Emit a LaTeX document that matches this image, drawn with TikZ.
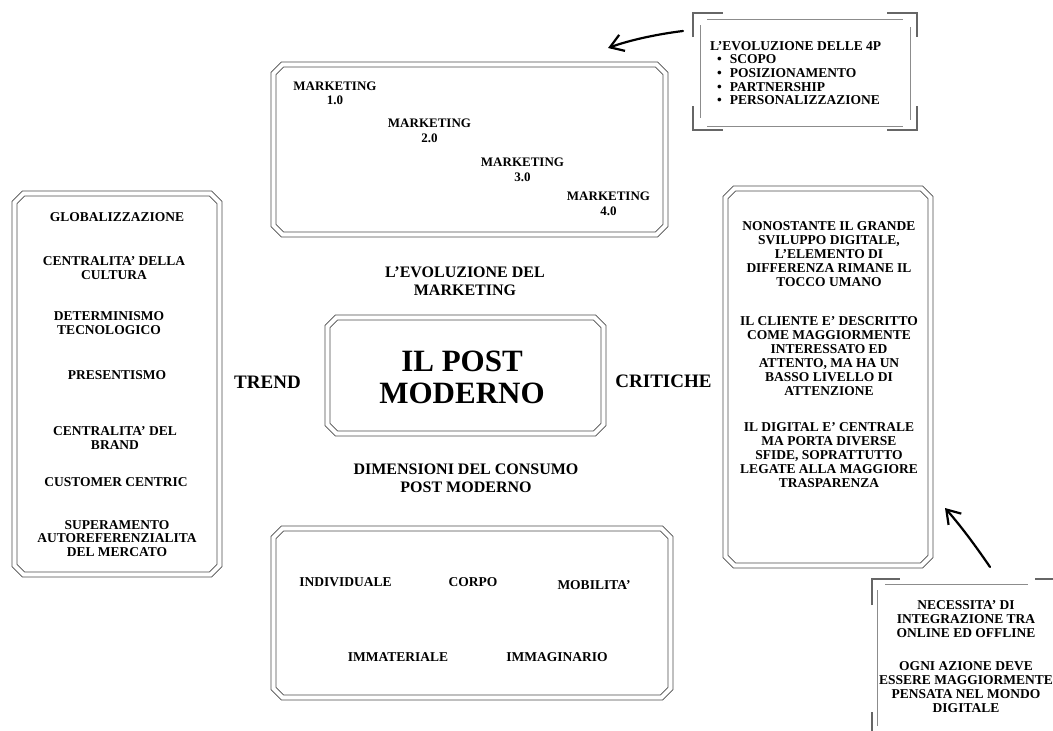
\documentclass[tikz,border=0pt]{standalone}
\usepackage{fontspec}
\setmainfont{Liberation Serif}
\usetikzlibrary{arrows.meta}
\tikzset{
  panel/.style={rectangle, draw=none, inner sep=0pt, outer sep=0pt},
  frameline/.style={draw=black!70, line width=0.9pt, double=white, double distance=4.1pt, line join=miter},
  brk/.style={draw=black!60, line width=1.6pt},
  thin/.style={draw=black!45, line width=0.8pt},
  txt/.style={font=\fontsize{13.5}{14}\selectfont\bfseries, align=center, inner sep=0pt},
  mk/.style={font=\fontsize{13}{14.5}\selectfont\bfseries, align=center, inner sep=0pt},
  head/.style={font=\fontsize{16}{18}\selectfont\bfseries, align=center, inner sep=0pt},
  side/.style={font=\fontsize{19}{20}\selectfont\bfseries, inner sep=0pt},
  title/.style={font=\fontsize{31}{32}\selectfont\bfseries, align=center, inner sep=0pt},
  arrowline/.style={line width=2.2pt, line cap=round, -{Straight Barb[length=13pt, width=17pt]}}
}
\newcommand\chframe[1]{%
  \draw[frameline] ([xshift=9pt]#1.north west) -- ([xshift=-9pt]#1.north east)
    -- ([yshift=-9pt]#1.north east) -- ([yshift=9pt]#1.south east)
    -- ([xshift=-9pt]#1.south east) -- ([xshift=9pt]#1.south west)
    -- ([yshift=9pt]#1.south west) -- ([yshift=-9pt]#1.north west) -- cycle;}
\begin{document}
\begin{tikzpicture}[x=1pt,y=1pt]
\fill[white] (0,0) rectangle (1053,-731);
\path[use as bounding box, clip] (0,0) rectangle (1053,-731);

% double chamfered panels
\node[panel, minimum width=392pt, minimum height=170pt] (evo) at (469.5,-149.5) {};
\node[panel, minimum width=205pt, minimum height=381pt] (trend) at (117,-384) {};
\node[panel, minimum width=205pt, minimum height=377pt] (crit) at (828,-377) {};
\node[panel, minimum width=276pt, minimum height=116pt] (core) at (465.5,-375.5) {};
\node[panel, minimum width=397pt, minimum height=169pt] (dim) at (472,-613) {};
\chframe{evo}
\chframe{trend}
\chframe{crit}
\chframe{core}
\chframe{dim}

% bracket box: 4P
\node[panel, minimum width=224pt, minimum height=117pt] (fourp) at (805,-71.5) {};
\draw[brk] (693,-37) -- (693,-13) -- (723,-13);
\draw[brk] (887,-13) -- (917,-13) -- (917,-37);
\draw[brk] (693,-106) -- (693,-130) -- (723,-130);
\draw[brk] (887,-130) -- (917,-130) -- (917,-106);
\draw[thin] (707,-19) -- (903,-19);
\draw[thin] (707,-126) -- (903,-126);
\draw[thin] (700,-25) -- (700,-118);
\draw[thin] (910,-27) -- (910,-120);

% bracket box: bottom right
\node[panel, minimum width=190pt, minimum height=158pt] (integ) at (967,-658) {};
\draw[brk] (872,-605) -- (872,-579) -- (900,-579);
\draw[brk] (1035,-579) -- (1070,-579);
\draw[brk] (872,-712) -- (872,-740);
\draw[thin] (885,-584) -- (1028,-584);
\draw[thin] (877,-590) -- (877,-726);

% texts: marketing evolution
\node[mk] (m1) at (335,-93.5) {MARKETING\\1.0};
\node[mk] (m2) at (429.5,-131) {MARKETING\\2.0};
\node[mk] (m3) at (522.5,-170) {MARKETING\\3.0};
\node[mk] (m4) at (608.5,-204) {MARKETING\\4.0};

% headings
\node[head] (hevo) at (465,-281) {L'EVOLUZIONE DEL\\MARKETING};
\node[head] (hdim) at (466,-478) {DIMENSIONI DEL CONSUMO\\POST MODERNO};
\node[side] (htrend) at (267.5,-382) {TREND};
\node[side] (hcrit) at (663.5,-381) {CRITICHE};
\node[title] (ttl) at (462,-377.5) {IL POST\\MODERNO};

% trend items
\node[txt] (t1) at (117,-217.5) {GLOBALIZZAZIONE};
\node[txt] (t2) at (114,-268.5) {CENTRALITA' DELLA\\CULTURA};
\node[txt] (t3) at (109,-323) {DETERMINISMO\\TECNOLOGICO};
\node[txt] (t4) at (117,-375.5) {PRESENTISMO};
\node[txt] (t5) at (115,-438.5) {CENTRALITA' DEL\\BRAND};
\node[txt] (t6) at (116,-482.5) {CUSTOMER CENTRIC};
\node[txt, font=\fontsize{13.5}{13.5}\selectfont\bfseries] (t7) at (117,-538.5) {SUPERAMENTO\\AUTOREFERENZIALITA\\DEL MERCATO};

% critiche
\node[txt] (c1) at (829,-254.5) {NONOSTANTE IL GRANDE\\SVILUPPO DIGITALE,\\L'ELEMENTO DI\\DIFFERENZA RIMANE IL\\TOCCO UMANO};
\node[txt] (c2) at (829,-356) {IL CLIENTE E' DESCRITTO\\COME MAGGIORMENTE\\INTERESSATO ED\\ATTENTO, MA HA UN\\BASSO LIVELLO DI\\ATTENZIONE};
\node[txt] (c3) at (829,-455) {IL DIGITAL E' CENTRALE\\MA PORTA DIVERSE\\SFIDE, SOPRATTUTTO\\LEGATE ALLA MAGGIORE\\TRASPARENZA};

% dimensions
\node[txt] (d1) at (345.5,-582.5) {INDIVIDUALE};
\node[txt] (d2) at (473,-582.5) {CORPO};
\node[txt] (d3) at (594,-585.5) {MOBILITA'};
\node[txt] (d4) at (398,-657.5) {IMMATERIALE};
\node[txt] (d5) at (557,-657.5) {IMMAGINARIO};

% 4P list
\node[txt, align=left, anchor=west, font=\fontsize{13.5}{13.7}\selectfont\bfseries] (p4) at (710,-73)
  {L'EVOLUZIONE DELLE 4P\\
   \hspace*{7pt}\textbullet\hspace{8pt}SCOPO\\
   \hspace*{7pt}\textbullet\hspace{8pt}POSIZIONAMENTO\\
   \hspace*{7pt}\textbullet\hspace{8pt}PARTNERSHIP\\
   \hspace*{7pt}\textbullet\hspace{8pt}PERSONALIZZAZIONE};

% integration box text
\node[txt, font=\fontsize{13.5}{13.8}\selectfont\bfseries] (i1) at (966,-619) {NECESSITA' DI\\INTEGRAZIONE TRA\\ONLINE ED OFFLINE};
\node[txt, font=\fontsize{13.5}{13.8}\selectfont\bfseries] (i2) at (966,-687) {OGNI AZIONE DEVE\\ESSERE MAGGIORMENTE\\PENSATA NEL MONDO\\DIGITALE};

% arrows
\coordinate (a1s) at (683,-31);
\coordinate (a1e) at (608,-48);
\coordinate (a2s) at (990,-567);
\coordinate (a2e) at (945,-508);
\draw[arrowline] (a1s) .. controls (658,-34) and (630,-40) .. (a1e);
\draw[arrowline] (a2s) .. controls (975,-545) and (960,-525) .. (a2e);
\end{tikzpicture}
\end{document}
